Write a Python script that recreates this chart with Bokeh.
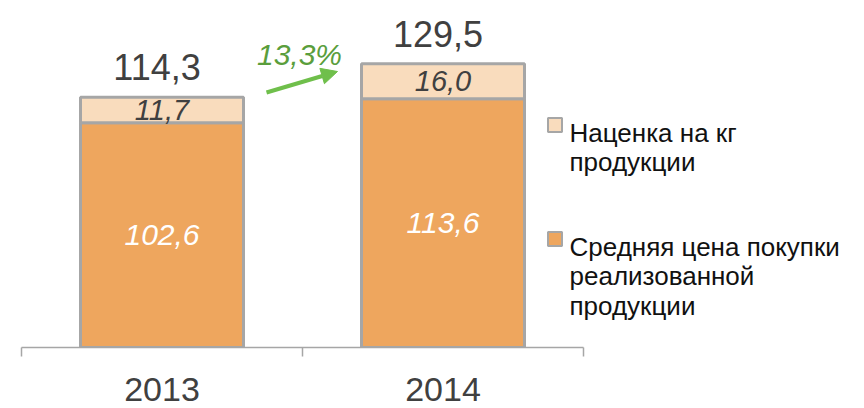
from bokeh.plotting import figure
from bokeh.models import Range1d, FixedTicker, Arrow, NormalHead, ColumnDataSource
from bokeh.core.properties import value
from bokeh.embed import file_html
from bokeh.resources import INLINE

# ---- data ----
years = ["2013", "2014"]
purchase = [102.6, 113.6]          # Средняя цена покупки реализованной продукции
markup = [11.7, 16.0]              # Наценка на кг продукции
totals = [114.3, 129.5]
growth_label = "13,3%"
legend_markup = ["Наценка на кг", "продукции"]
legend_purchase = ["Средняя цена покупки", "реализованной", "продукции"]

# ---- style ----
ORANGE = "#EEA65E"
PEACH = "#F9DCBD"
GRAY = "#A6A6A6"
DARK = "#404040"
GREEN_ARROW = "#6FBF4B"
GREEN_TEXT = "#5A9E3C"
FONT = "Liberation Sans"


def fmt(v):
    return f"{v:.1f}".replace(".", ",")


W, H = 856, 406
OFF = 1          # page offset of the canvas
BASE_X = 22.0    # page px of first category boundary
BASE_Y = 348.0   # page px of baseline
PX_X = 281.0     # px per category
PX_Y = 2.19      # px per unit
FRAME_H = int(BASE_Y - OFF)


def sx(px):  # page pixel -> data x
    return (px - BASE_X) / PX_X


def sy(py):  # page pixel -> data y
    return (BASE_Y - py) / PX_Y


p = figure(width=W, height=H, output_backend="svg", toolbar_location=None,
           x_range=Range1d(sx(OFF), sx(OFF + W)),
           y_range=Range1d(0, sy(OFF)),
           min_border_left=0, min_border_right=0, min_border_top=0,
           min_border_bottom=H - FRAME_H, y_axis_location=None)
p.outline_line_color = None
p.grid.visible = False

x = [i + 0.5 for i in range(len(years))]

ax = p.xaxis[0]
ax.ticker = FixedTicker(ticks=x, minor_ticks=list(range(len(years) + 1)))
ax.bounds = (0, len(years))
ax.major_label_overrides = {xi: yr for xi, yr in zip(x, years)}
ax.axis_line_color = GRAY
ax.axis_line_width = 1.5
ax.major_tick_out = 0
ax.major_tick_in = 0
ax.major_tick_line_color = None
ax.minor_tick_line_color = GRAY
ax.minor_tick_line_width = 1.5
ax.minor_tick_out = 9
ax.minor_tick_in = 0
ax.major_label_text_font = FONT
ax.major_label_text_font_size = "34px"
ax.major_label_text_color = DARK
ax.major_label_standoff = 21

src = ColumnDataSource(dict(x=x, purchase=purchase, markup=markup))
p.vbar_stack(["purchase", "markup"], x="x", width=0.58, source=src,
             fill_color=[ORANGE, PEACH], line_color=GRAY, line_width=3)

# inner labels
p.text(x=x, y=[v / 2 for v in purchase], text=[fmt(v) for v in purchase],
       text_align="center", text_baseline="middle", text_font=value(FONT),
       text_font_style="italic", text_font_size="30px", text_color="white")
p.text(x=x, y=[a + b / 2 for a, b in zip(purchase, markup)], text=[fmt(v) for v in markup],
       text_align="center", text_baseline="middle", text_font=value(FONT),
       text_font_style="italic", text_font_size="29px", text_color=DARK)
# totals
p.text(x=x, y=totals, text=[fmt(v) for v in totals], x_offset=-5, y_offset=-30,
       text_align="center", text_baseline="alphabetic", text_font=value(FONT),
       text_font_size="36px", text_color=DARK)

# growth arrow
p.add_layout(Arrow(end=NormalHead(size=16, fill_color=GREEN_ARROW, line_color=GREEN_ARROW),
                   x_start=sx(267), y_start=sy(93), x_end=sx(338), y_end=sy(72),
                   line_color=GREEN_ARROW, line_width=4))
p.text(x=[sx(300)], y=[sy(55)], text=[growth_label], text_align="center",
       text_baseline="middle", text_font=value(FONT), text_font_style="italic",
       text_font_size="30px", text_color=GREEN_TEXT)

# legend
groups = [(legend_markup, PEACH, 125.5, 133), (legend_purchase, ORANGE, 239.5, 247)]
for lines, col, sq_y, base in groups:
    p.scatter(x=[sx(555.5)], y=[sy(sq_y)], marker="square", size=14,
              fill_color=col, line_color=GRAY, line_width=2)
    p.text(x=[sx(570)] * len(lines), y=[sy(base + 29.5 * i) for i in range(len(lines))],
           text=lines, text_align="left", text_baseline="alphabetic",
           text_font=value(FONT), text_font_size="26px", text_color="#111111")

open("out.html", "w").write(file_html(p, INLINE))
